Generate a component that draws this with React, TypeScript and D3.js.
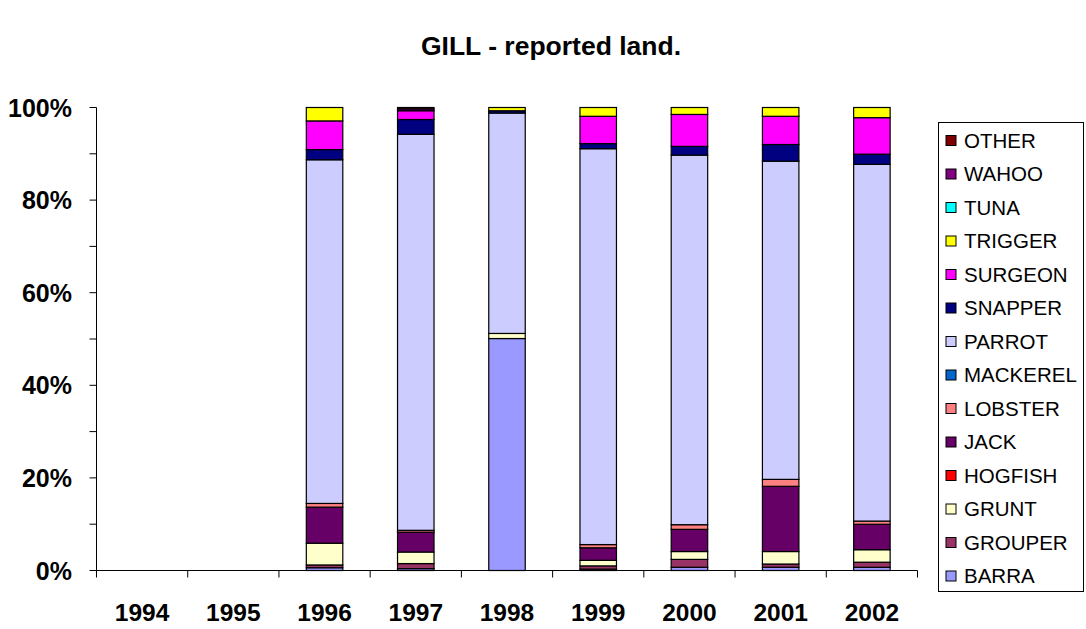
import React from "react";
import * as d3 from "d3";

const years = ["1994", "1995", "1996", "1997", "1998", "1999", "2000", "2001", "2002"];

// Share of reported landings (%) per species, bottom of stack first
const BARRA = [0, 0, 0.6, 0.4, 50.1, 0.3, 0.7, 0.7, 0.7];
const GROUPER = [0, 0, 0.6, 1.1, 0, 0.7, 1.7, 0.7, 1.1];
const GRUNT = [0, 0, 4.7, 2.5, 1.1, 1.2, 1.7, 2.7, 2.7];
const HOGFISH = [0, 0, 0, 0, 0, 0, 0, 0, 0];
const JACK = [0, 0, 7.8, 4.3, 0, 2.7, 4.8, 14.1, 5.5];
const LOBSTER = [0, 0, 0.8, 0.4, 0, 0.7, 1.0, 1.5, 0.7];
const MACKEREL = [0, 0, 0, 0, 0, 0, 0, 0, 0];
const PARROT = [0, 0, 74.3, 85.7, 47.6, 85.5, 79.9, 68.8, 77.2];
const SNAPPER = [0, 0, 2.2, 3.2, 0.5, 1.1, 1.9, 3.6, 2.2];
const SURGEON = [0, 0, 6.2, 1.9, 0, 5.9, 6.9, 6.1, 7.9];
const TRIGGER = [0, 0, 2.9, 0, 0.7, 1.9, 1.5, 1.9, 2.2];
const TUNA = [0, 0, 0, 0, 0, 0, 0, 0, 0];
const WAHOO = [0, 0, 0, 0.4, 0, 0, 0, 0, 0];
const OTHER = [0, 0, 0, 0.3, 0, 0, 0, 0, 0];

const speciesNames = ["BARRA", "GROUPER", "GRUNT", "HOGFISH", "JACK", "LOBSTER", "MACKEREL", "PARROT", "SNAPPER", "SURGEON", "TRIGGER", "TUNA", "WAHOO", "OTHER"];
const speciesValues = [BARRA, GROUPER, GRUNT, HOGFISH, JACK, LOBSTER, MACKEREL, PARROT, SNAPPER, SURGEON, TRIGGER, TUNA, WAHOO, OTHER];
const speciesColors = ["#9999FF", "#993366", "#FFFFCC", "#FF0000", "#660066", "#FF8080", "#0066CC", "#CCCCFF", "#000080", "#FF00FF", "#FFFF00", "#00FFFF", "#800080", "#800000"];

const yTicks = [0, 0.1, 0.2, 0.3, 0.4, 0.5, 0.6, 0.7, 0.8, 0.9, 1.0];
const yLabels = [0, 0.2, 0.4, 0.6, 0.8, 1.0];

const W = 1086;
const H = 629;
const left = 96.5;
const right = 917.5;
const top = 107.5;
const bottom = 570.5;

export default function App() {
  const rows = years.map((yr, i) => {
    const r: Record<string, any> = { year: yr };
    speciesNames.forEach((s, k) => (r[s] = speciesValues[k][i]));
    return r;
  });
  const stack = d3.stack<any>().keys(speciesNames).order(d3.stackOrderNone).offset(d3.stackOffsetExpand);
  const series = stack(rows);

  const x = d3.scaleBand<string>().domain(years).range([left, right]).paddingInner(0.6).paddingOuter(0.3);
  const step = x.step();
  const y = d3.scaleLinear().domain([0, 1]).range([bottom, top]);
  const fmt = d3.format(".0%");
  const font = "'Liberation Sans', Arial, sans-serif";

  const legendX = 938.5;
  const legendY = 122.5;
  const legendW = 145;
  const legendH = 469;
  const itemGap = 33.5;

  return (
    <svg width={W} height={H} style={{ position: "absolute", left: 0, top: 0, background: "#fff" }} fontFamily={font}>
      <rect x={0} y={0} width={W} height={H} fill="#fff" />
      <text x={551} y={55} textAnchor="middle" fontSize={26.5} fontWeight="bold">GILL - reported land.</text>

      {series.map((s, k) => (
        <g key={speciesNames[k]} fill={speciesColors[k]}>
          {s.map((d, i) => {
            const h = y(d[0]) - y(d[1]);
            if (!(h > 0)) return null;
            return (
              <rect key={i} x={x(years[i])!} y={y(d[1])} width={x.bandwidth()} height={h} stroke="#000" strokeWidth={1.2} />
            );
          })}
        </g>
      ))}

      {/* y axis */}
      <line x1={left} x2={left} y1={top} y2={bottom} stroke="#000" />
      {yTicks.map((t) => (
        <line key={t} x1={left - 7} x2={left} y1={y(t)} y2={y(t)} stroke="#000" />
      ))}
      {yLabels.map((t) => (
        <text key={t} x={72} y={y(t) + 9} textAnchor="end" fontSize={25} fontWeight="bold">{fmt(t)}</text>
      ))}

      {/* x axis */}
      <line x1={left} x2={right} y1={bottom} y2={bottom} stroke="#000" />
      {d3.range(years.length + 1).map((i) => (
        <line key={i} x1={left + i * step} x2={left + i * step} y1={bottom} y2={bottom + 7} stroke="#000" />
      ))}
      {years.map((yr) => (
        <text key={yr} x={x(yr)! + x.bandwidth() / 2} y={621} textAnchor="middle" fontSize={24.5} fontWeight="bold">{yr}</text>
      ))}

      {/* legend */}
      <rect x={legendX} y={legendY} width={legendW} height={legendH} fill="#fff" stroke="#000" />
      {speciesNames.slice().reverse().map((name, j) => {
        const k = speciesNames.length - 1 - j;
        const cy = legendY + 18 + j * itemGap;
        return (
          <g key={name}>
            <rect x={946} y={cy - 5} width={10} height={10} fill={speciesColors[k]} stroke="#000" />
            <text x={964} y={cy + 7} fontSize={20.5}>{name}</text>
          </g>
        );
      })}
    </svg>
  );
}
